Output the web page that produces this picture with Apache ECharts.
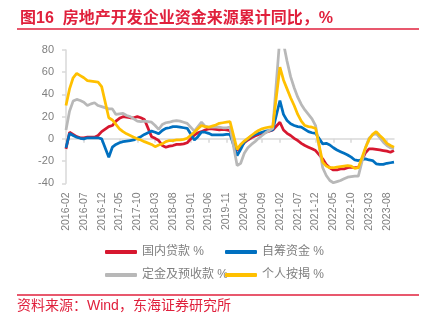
<!DOCTYPE html>
<html>
<head>
<meta charset="utf-8">
<script src="https://cdn.jsdelivr.net/npm/echarts@6/dist/echarts.min.js"></script>
<style>
html,body{margin:0;padding:0;background:#fff;}
#c{width:429px;height:323px;}
</style>
</head>
<body>
<div id="c"></div>
<script>
// Months 2016-02 .. 2023-10 (January figures not published -> null)
const startYear = 2016, startMonth = 2, monthCount = 93;
const categories = [];
for (let k = 0; k < monthCount; k++) {
  const m = startMonth - 1 + k;
  const y = startYear + Math.floor(m / 12);
  const mm = (m % 12) + 1;
  categories.push(y + '-' + (mm < 10 ? '0' + mm : '' + mm));
}

const seriesNames = ['国内贷款 %', '自筹资金 %', '定金及预收款 %', '个人按揭 %'];

const domesticLoans = [
  -9, 6, 4, 2, 1, 1, 1.5, 1.5, 1.5, 3, 6.5,
  null, 11, 12, 16, 18.5, 20, 19.5, 19, 19, 20, 19, 17.5,
  null, 2, 0.5, -1.5, -6, -7.5, -6.5, -6, -5, -5, -4.5, -3.5,
  null, 3.5, 5.5, 6.5, 8, 9, 9, 8.5, 8, 8.5, 8, 7.5,
  null, -10.5, -7, -3.5, -1, 1, 2.5, 4, 5, 6, 7, 8,
  null, 15, 8, 5, 3, 0.5, -1.5, -4, -6, -7.5, -9, -10.5,
  null, -18, -23, -26, -28, -28, -27, -27, -26, -25.5, -26, -26,
  null, -12.5, -9, -9, -9.5, -10, -10.5, -11, -12, -10.5
];
const selfRaised = [
  -8, 5, 3, 1.5, 0.5, 0, 1, 1, 1, 1, 0,
  null, -16.5, -7.5, -5, -3.5, -2.5, -2, -1.5, -1, 0.5, 2, 4,
  null, 7, 6, 4.5, 7.5, 9.5, 10, 11, 11, 10.5, 10, 9.5,
  null, -1, 2, 6, 6, 5, 3.5, 3.5, 3.5, 3.5, 4, 4,
  null, -15, -9.5, -3, 0, 2.5, 4, 5, 6, 7, 7.5, 8,
  null, 34.5, 22, 16.5, 13.5, 12, 11, 10.5, 8.5, 6.5, 5.5, 5,
  null, -4.5, -4, -5.5, -8, -10, -11.5, -13, -14.5, -16.5, -19, -19.5,
  null, -18, -19, -19.5, -22.5, -23, -23, -22, -21.5, -21
];
const deposits = [
  8, 25, 34, 35.5, 34.5, 33, 30, 31.5, 32.5, 30, 29,
  null, 27, 27, 22, 22.5, 23, 21, 20, 18, 16, 15.5, 16,
  null, 15, 12, 8.5, 13, 14.5, 15, 16, 16.5, 16, 15, 14,
  null, 7, 11, 15, 11.5, 10.5, 10.5, 10.5, 10.5, 10, 10, 10.5,
  null, -24, -22, -13, -8, -5, -2.5, 0.5, 3, 5.5, 7.5, 9.5,
  null, 92, 86, 70, 56, 46, 37.5, 31, 26, 22, 18, 12,
  null, -26, -33, -37.5, -39.5, -38.5, -37.5, -36, -34.5, -34, -33.5, -33.5,
  null, -8, 0.5, 3.5, 5, 1, -3, -6, -8, -9
];
const mortgages = [
  30, 45, 55, 59, 57, 55, 52.5, 52, 51.5, 51, 47,
  null, 19, 17, 13, 9, 6.5, 4.5, 3, 1.5, 0, -1, -2.5,
  null, -5, -7, -5.5, -4.5, -2.5, -1.5, -1.5, -1, -1, -0.5, 0.5,
  null, 6, 9, 12, 11, 10.5, 11.5, 12.5, 14, 14.5, 15, 15.5,
  null, -9.5, -5, -2, 0.5, 3, 5.5, 7.5, 9, 10, 10.5, 11,
  null, 64.5, 53, 45, 37, 30, 22, 16, 12, 11, 10.5, 9.5,
  null, -21, -24.5, -26, -26, -25.5, -25, -24.5, -24, -24.5, -26.5, -26,
  null, -8, -0.5, 4, 6.5, 3, 0, -4, -6, -7.5
];

const colors = ['#d7172f', '#0070c0', '#b8b8b8', '#ffc000'];
const allData = [domesticLoans, selfRaised, deposits, mortgages];

const FONT = '"Liberation Sans", Arial, "Noto Sans CJK SC", sans-serif';
const RED = '#e0203c';

function legendAt(name, left, top) {
  return {
    data: [name], left: left, top: top, orient: 'horizontal',
    icon: 'roundRect', itemWidth: 32, itemHeight: 4, itemGap: 0,
    padding: 0,
    textStyle: { color: '#7f7f7f', fontSize: 12, fontFamily: FONT }
  };
}

const chart = echarts.init(document.getElementById('c'), null, { renderer: 'canvas' });
chart.setOption({
  animation: false,
  color: colors,
  textStyle: { fontFamily: FONT },
  title: {
    text: '图16  房地产开发企业资金来源累计同比，%',
    left: 15, top: 6,
    textStyle: { color: RED, fontSize: 16, fontWeight: 'bold', fontFamily: FONT }
  },
  graphic: [
    { type: 'line', shape: { x1: 17, y1: 29, x2: 419, y2: 29 }, style: { stroke: RED, lineWidth: 1.5 } },
    { type: 'line', shape: { x1: 17, y1: 295, x2: 419, y2: 295 }, style: { stroke: RED, lineWidth: 1.5 } },
    { type: 'text', left: 17, top: 299, style: { text: '资料来源：Wind，东海证券研究所', fill: RED, fontSize: 14, fontFamily: FONT } }
  ],
  legend: [
    legendAt(seriesNames[0], 105, 246),
    legendAt(seriesNames[1], 225, 246),
    legendAt(seriesNames[2], 105, 269),
    legendAt(seriesNames[3], 225, 269)
  ],
  grid: { left: 66, right: 35, top: 50, bottom: 139.7, containLabel: false },
  xAxis: [
    {
      type: 'category', data: categories, boundaryGap: false,
      axisLine: { onZero: true, lineStyle: { color: '#d9d9d9', width: 1.5 } },
      axisTick: { show: true, interval: 4, length: 4, lineStyle: { color: '#d9d9d9', width: 1.5 } },
      axisLabel: { show: false }
    },
    {
      type: 'category', data: categories, boundaryGap: false, position: 'bottom',
      axisLine: { show: false, onZero: false },
      axisTick: { show: false },
      axisLabel: { interval: 4, rotate: 90, margin: 9, color: '#7f7f7f', fontSize: 10.5, fontFamily: FONT }
    }
  ],
  yAxis: {
    type: 'value', min: -40, max: 80, interval: 20,
    axisLine: { show: true, lineStyle: { color: '#d9d9d9', width: 1.5 } },
    axisTick: { show: true, length: 4, lineStyle: { color: '#d9d9d9', width: 1.5 } },
    axisLabel: { color: '#7f7f7f', fontSize: 11, margin: 12, fontFamily: FONT },
    splitLine: { show: false }
  },
  series: seriesNames.map((n, k) => ({
    name: n, type: 'line', data: allData[k], xAxisIndex: 0,
    symbol: 'none', connectNulls: true, clip: true,
    lineStyle: { width: 2.75, color: colors[k] },
    itemStyle: { color: colors[k] }
  }))
});
</script>
</body>
</html>
